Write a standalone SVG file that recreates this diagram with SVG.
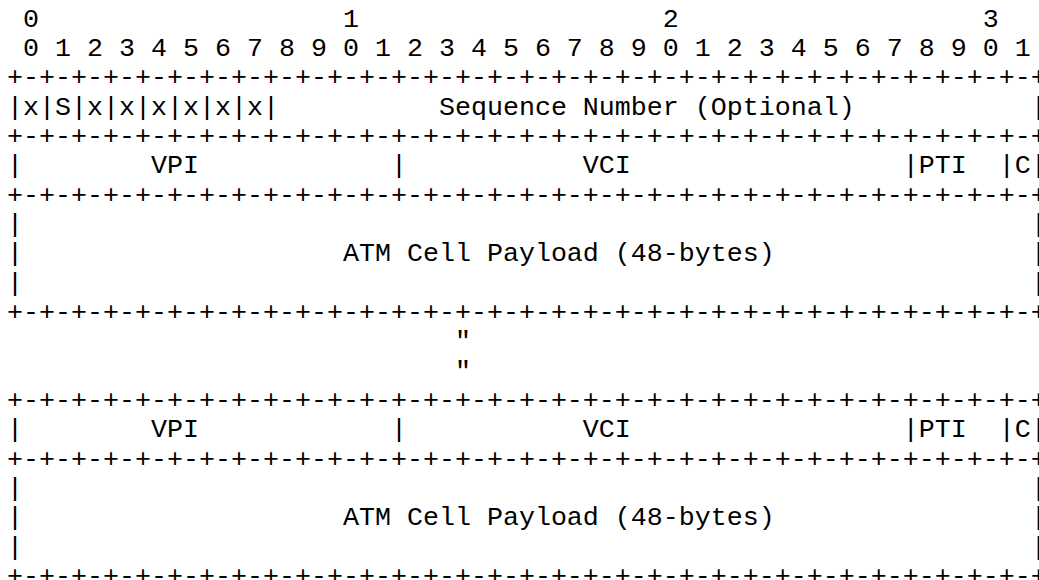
<svg xmlns="http://www.w3.org/2000/svg" width="1039" height="580" viewBox="0 0 1039 580">
<style>
text{font-family:"Liberation Mono","Courier New",monospace;font-size:26.667px;fill:#000;white-space:pre}
</style>
<rect width="1039" height="580" fill="#fff"/>
<g id="ruler">
<text x="7" y="26.7" xml:space="preserve"> 0                   1                   2                   3</text>
<text x="7" y="56" xml:space="preserve"> 0 1 2 3 4 5 6 7 8 9 0 1 2 3 4 5 6 7 8 9 0 1 2 3 4 5 6 7 8 9 0 1</text>
</g>
<g id="row-flags-seq">
<text x="7" y="85.3" xml:space="preserve">+-+-+-+-+-+-+-+-+-+-+-+-+-+-+-+-+-+-+-+-+-+-+-+-+-+-+-+-+-+-+-+-+</text>
<text x="7" y="114.7" xml:space="preserve">|x|S|x|x|x|x|x|x|          Sequence Number (Optional)           |</text>
<text x="7" y="144" xml:space="preserve">+-+-+-+-+-+-+-+-+-+-+-+-+-+-+-+-+-+-+-+-+-+-+-+-+-+-+-+-+-+-+-+-+</text>
</g>
<g id="cell1-header">
<text x="7" y="173.3" xml:space="preserve">|        VPI            |           VCI                 |PTI  |C|</text>
<text x="7" y="202.7" xml:space="preserve">+-+-+-+-+-+-+-+-+-+-+-+-+-+-+-+-+-+-+-+-+-+-+-+-+-+-+-+-+-+-+-+-+</text>
</g>
<g id="cell1-payload">
<text x="7" y="232" xml:space="preserve">|                                                               |</text>
<text x="7" y="261.3" xml:space="preserve">|                    ATM Cell Payload (48-bytes)                |</text>
<text x="7" y="290.7" xml:space="preserve">|                                                               |</text>
<text x="7" y="320" xml:space="preserve">+-+-+-+-+-+-+-+-+-+-+-+-+-+-+-+-+-+-+-+-+-+-+-+-+-+-+-+-+-+-+-+-+</text>
</g>
<g id="ellipsis">
<text x="7" y="349.3" xml:space="preserve">                            "</text>
<text x="7" y="378.7" xml:space="preserve">                            "</text>
</g>
<g id="cellN-header">
<text x="7" y="408" xml:space="preserve">+-+-+-+-+-+-+-+-+-+-+-+-+-+-+-+-+-+-+-+-+-+-+-+-+-+-+-+-+-+-+-+-+</text>
<text x="7" y="437.3" xml:space="preserve">|        VPI            |           VCI                 |PTI  |C|</text>
<text x="7" y="466.7" xml:space="preserve">+-+-+-+-+-+-+-+-+-+-+-+-+-+-+-+-+-+-+-+-+-+-+-+-+-+-+-+-+-+-+-+-+</text>
</g>
<g id="cellN-payload">
<text x="7" y="496" xml:space="preserve">|                                                               |</text>
<text x="7" y="525.3" xml:space="preserve">|                    ATM Cell Payload (48-bytes)                |</text>
<text x="7" y="554.7" xml:space="preserve">|                                                               |</text>
<text x="7" y="584" xml:space="preserve">+-+-+-+-+-+-+-+-+-+-+-+-+-+-+-+-+-+-+-+-+-+-+-+-+-+-+-+-+-+-+-+-+</text>
</g>
</svg>
